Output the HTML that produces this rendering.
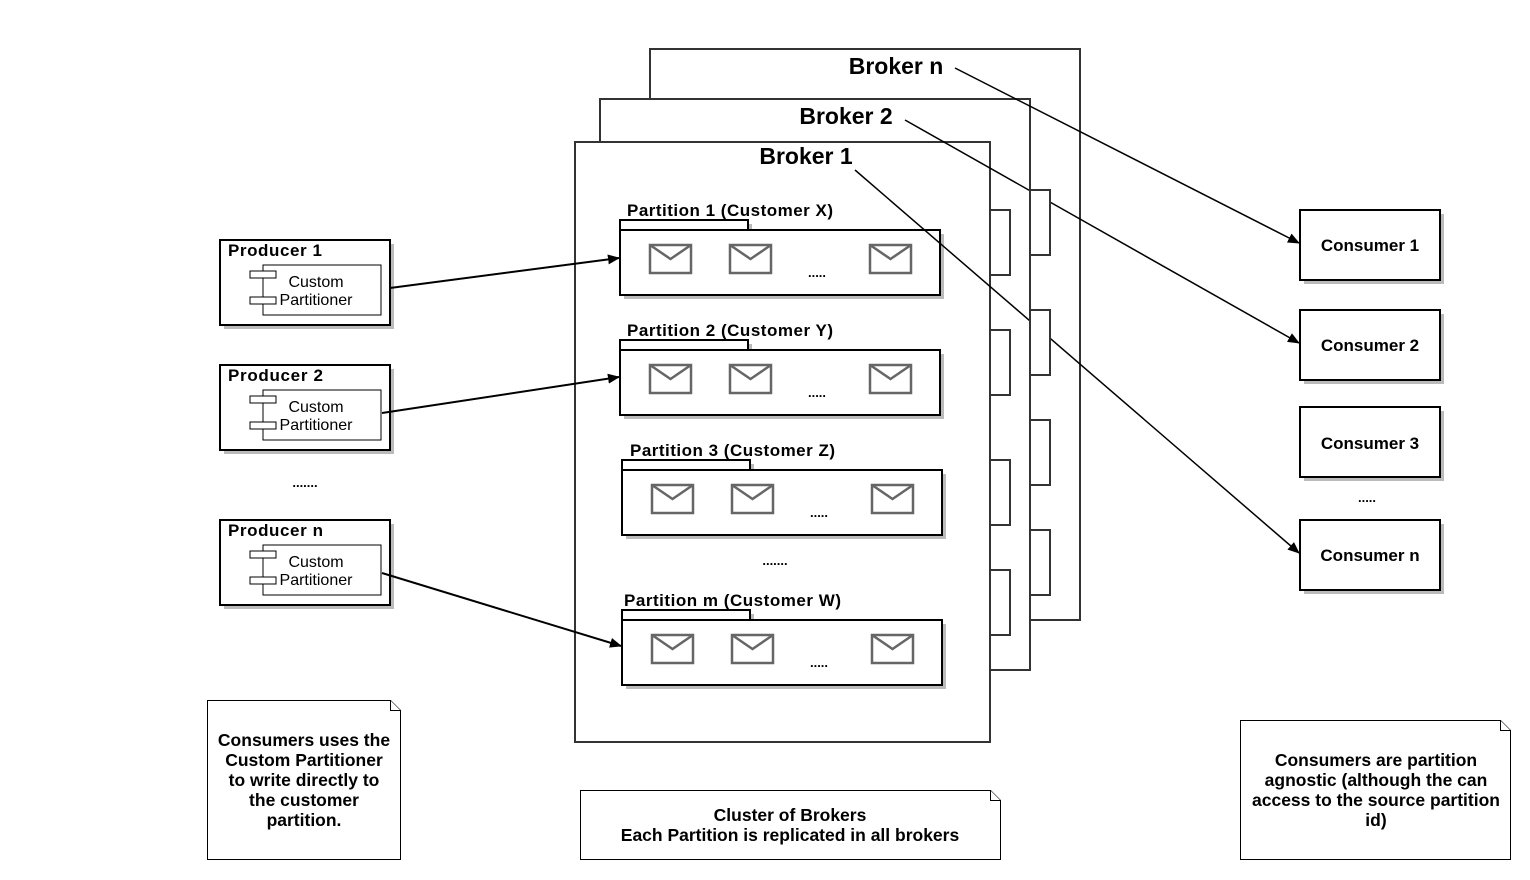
<!DOCTYPE html>
<html><head><meta charset="utf-8"><style>
html,body{margin:0;padding:0;background:#fff;}
svg{display:block;}
text{font-family:"Liberation Sans",Arial,sans-serif;font-weight:bold;fill:#000;}
</style></head><body>
<svg width="1530" height="880" viewBox="0 0 1530 880" xmlns="http://www.w3.org/2000/svg">
<defs>
<marker id="ah" markerWidth="12" markerHeight="10" refX="11" refY="5" orient="auto" markerUnits="userSpaceOnUse">
<path d="M0,0 L12,5 L0,10 z" fill="#000"/></marker>
<g id="env"><rect x="0" y="0" width="41" height="28" fill="#fff" stroke="#666" stroke-width="2.5"/><path d="M0,0 L20.5,14 L41,0" fill="none" stroke="#666" stroke-width="2.5"/></g>
</defs>
<!-- brokers -->
<rect x="650" y="49" width="430" height="571" fill="#fff" stroke="#333" stroke-width="2"/>
<rect x="600" y="99" width="430" height="571" fill="#fff" stroke="#333" stroke-width="2"/>
<rect x="575" y="142" width="415" height="600" fill="#fff" stroke="#333" stroke-width="2"/>
<text x="896" y="74" font-size="23" text-anchor="middle">Broker n</text>
<text x="846" y="124" font-size="23" text-anchor="middle">Broker 2</text>
<text x="806" y="164" font-size="23" text-anchor="middle">Broker 1</text>
<!-- partitions -->
<g>
<g transform="translate(620,230)">
<rect x="4" y="-6" width="128" height="10" fill="#bbb"/><rect x="0" y="-10" width="128" height="10" fill="#fff" stroke="#000" stroke-width="2"/>
<rect x="4" y="4" width="320" height="65" fill="#bbb"/><rect x="0" y="0" width="320" height="65" fill="#fff" stroke="#000" stroke-width="2"/>
<use href="#env" x="30" y="15"/><use href="#env" x="110" y="15"/><use href="#env" x="250" y="15"/>
<text x="197" y="47" font-size="13" text-anchor="middle">.....</text>
</g>
<text x="627" y="216" font-size="17" textLength="206">Partition 1 (Customer X)</text>
<g transform="translate(620,350)">
<rect x="4" y="-6" width="128" height="10" fill="#bbb"/><rect x="0" y="-10" width="128" height="10" fill="#fff" stroke="#000" stroke-width="2"/>
<rect x="4" y="4" width="320" height="65" fill="#bbb"/><rect x="0" y="0" width="320" height="65" fill="#fff" stroke="#000" stroke-width="2"/>
<use href="#env" x="30" y="15"/><use href="#env" x="110" y="15"/><use href="#env" x="250" y="15"/>
<text x="197" y="47" font-size="13" text-anchor="middle">.....</text>
</g>
<text x="627" y="336" font-size="17" textLength="206">Partition 2 (Customer Y)</text>
<g transform="translate(622,470)">
<rect x="4" y="-6" width="128" height="10" fill="#bbb"/><rect x="0" y="-10" width="128" height="10" fill="#fff" stroke="#000" stroke-width="2"/>
<rect x="4" y="4" width="320" height="65" fill="#bbb"/><rect x="0" y="0" width="320" height="65" fill="#fff" stroke="#000" stroke-width="2"/>
<use href="#env" x="30" y="15"/><use href="#env" x="110" y="15"/><use href="#env" x="250" y="15"/>
<text x="197" y="47" font-size="13" text-anchor="middle">.....</text>
</g>
<text x="630" y="456" font-size="17" textLength="205">Partition 3 (Customer Z)</text>
<text x="775" y="565" font-size="13" text-anchor="middle">.......</text>
<g transform="translate(622,620)">
<rect x="4" y="-6" width="128" height="10" fill="#bbb"/><rect x="0" y="-10" width="128" height="10" fill="#fff" stroke="#000" stroke-width="2"/>
<rect x="4" y="4" width="320" height="65" fill="#bbb"/><rect x="0" y="0" width="320" height="65" fill="#fff" stroke="#000" stroke-width="2"/>
<use href="#env" x="30" y="15"/><use href="#env" x="110" y="15"/><use href="#env" x="250" y="15"/>
<text x="197" y="47" font-size="13" text-anchor="middle">.....</text>
</g>
<text x="624" y="606" font-size="17" textLength="217">Partition m (Customer W)</text>
</g>
<!-- lines to consumers -->
<g stroke="#000" stroke-width="1.5" fill="none">
<line x1="955" y1="68" x2="1299" y2="243" marker-end="url(#ah)"/>
<line x1="905" y1="120" x2="1299" y2="343" marker-end="url(#ah)"/>
<line x1="855" y1="170" x2="1299" y2="553" marker-end="url(#ah)"/>
</g>
<!-- tabs -->
<g fill="#fff" stroke="#333" stroke-width="2">
<rect x="990" y="210" width="20" height="65"/><rect x="990" y="330" width="20" height="65"/>
<rect x="990" y="460" width="20" height="65"/><rect x="990" y="570" width="20" height="65"/>
<rect x="1030" y="190" width="20" height="65"/><rect x="1030" y="310" width="20" height="65"/>
<rect x="1030" y="420" width="20" height="65"/><rect x="1030" y="530" width="20" height="65"/>
</g>
<!-- producers -->
<g transform="translate(220,240)">
<rect x="4" y="4" width="170" height="85" fill="#bbb"/><rect x="0" y="0" width="170" height="85" fill="#fff" stroke="#000" stroke-width="2"/>
<text x="8" y="16" font-size="17" textLength="94">Producer 1</text>
<rect x="43" y="25" width="118" height="50" fill="#fff" stroke="#000" stroke-width="1"/>
<rect x="30" y="31" width="26" height="7" fill="#fff" stroke="#000"/><rect x="30" y="57" width="26" height="7" fill="#fff" stroke="#000"/>
<text x="96" y="47" font-size="16" style="font-weight:normal" text-anchor="middle">Custom</text>
<text x="96" y="65" font-size="16" style="font-weight:normal" text-anchor="middle">Partitioner</text>
</g>
<g transform="translate(220,365)">
<rect x="4" y="4" width="170" height="85" fill="#bbb"/><rect x="0" y="0" width="170" height="85" fill="#fff" stroke="#000" stroke-width="2"/>
<text x="8" y="16" font-size="17" textLength="95">Producer 2</text>
<rect x="43" y="25" width="118" height="50" fill="#fff" stroke="#000" stroke-width="1"/>
<rect x="30" y="31" width="26" height="7" fill="#fff" stroke="#000"/><rect x="30" y="57" width="26" height="7" fill="#fff" stroke="#000"/>
<text x="96" y="47" font-size="16" style="font-weight:normal" text-anchor="middle">Custom</text>
<text x="96" y="65" font-size="16" style="font-weight:normal" text-anchor="middle">Partitioner</text>
</g>
<text x="305" y="487" font-size="13" text-anchor="middle">.......</text>
<g transform="translate(220,520)">
<rect x="4" y="4" width="170" height="85" fill="#bbb"/><rect x="0" y="0" width="170" height="85" fill="#fff" stroke="#000" stroke-width="2"/>
<text x="8" y="16" font-size="17" textLength="95">Producer n</text>
<rect x="43" y="25" width="118" height="50" fill="#fff" stroke="#000" stroke-width="1"/>
<rect x="30" y="31" width="26" height="7" fill="#fff" stroke="#000"/><rect x="30" y="57" width="26" height="7" fill="#fff" stroke="#000"/>
<text x="96" y="47" font-size="16" style="font-weight:normal" text-anchor="middle">Custom</text>
<text x="96" y="65" font-size="16" style="font-weight:normal" text-anchor="middle">Partitioner</text>
</g>
<!-- producer arrows -->
<g stroke="#000" stroke-width="2" fill="none">
<line x1="390" y1="288" x2="619" y2="258" marker-end="url(#ah)"/>
<line x1="382" y1="413" x2="619" y2="377" marker-end="url(#ah)"/>
<line x1="382" y1="573" x2="621" y2="646" marker-end="url(#ah)"/>
</g>
<!-- consumers -->
<g>
<rect x="1304" y="214" width="140" height="70" fill="#bbb"/><rect x="1300" y="210" width="140" height="70" fill="#fff" stroke="#000" stroke-width="2"/>
<text x="1370" y="251" font-size="17" text-anchor="middle">Consumer 1</text>
<rect x="1304" y="314" width="140" height="70" fill="#bbb"/><rect x="1300" y="310" width="140" height="70" fill="#fff" stroke="#000" stroke-width="2"/>
<text x="1370" y="351" font-size="17" text-anchor="middle">Consumer 2</text>
<rect x="1304" y="411" width="140" height="70" fill="#bbb"/><rect x="1300" y="407" width="140" height="70" fill="#fff" stroke="#000" stroke-width="2"/>
<text x="1370" y="449" font-size="17" text-anchor="middle">Consumer 3</text>
<text x="1367" y="502" font-size="13" text-anchor="middle">.....</text>
<rect x="1304" y="524" width="140" height="70" fill="#bbb"/><rect x="1300" y="520" width="140" height="70" fill="#fff" stroke="#000" stroke-width="2"/>
<text x="1370" y="561" font-size="17" text-anchor="middle">Consumer n</text>
</g>
<!-- notes -->
<g fill="#fff" stroke="#000" stroke-width="1">
<path d="M207.5,700.5 H390.5 L400.5,710.5 V859.5 H207.5 Z"/><path d="M390.5,700.5 V710.5 H400.5"/>
<path d="M580.5,790.5 H990.5 L1000.5,800.5 V859.5 H580.5 Z"/><path d="M990.5,790.5 V800.5 H1000.5"/>
<path d="M1240.5,720.5 H1500.5 L1510.5,730.5 V859.5 H1240.5 Z"/><path d="M1500.5,720.5 V730.5 H1510.5"/>
</g>
<g font-size="17.5" text-anchor="middle">
<text x="304" y="746">Consumers uses the</text>
<text x="304" y="766">Custom Partitioner</text>
<text x="304" y="786">to write directly to</text>
<text x="304" y="806">the customer</text>
<text x="304" y="826">partition.</text>
<text x="790" y="821">Cluster of Brokers</text>
<text x="790" y="841">Each Partition is replicated in all brokers</text>
<text x="1376" y="766">Consumers are partition</text>
<text x="1376" y="786">agnostic (although the can</text>
<text x="1376" y="806">access to the source partition</text>
<text x="1376" y="826">id)</text>
</g>
</svg>
</body></html>
